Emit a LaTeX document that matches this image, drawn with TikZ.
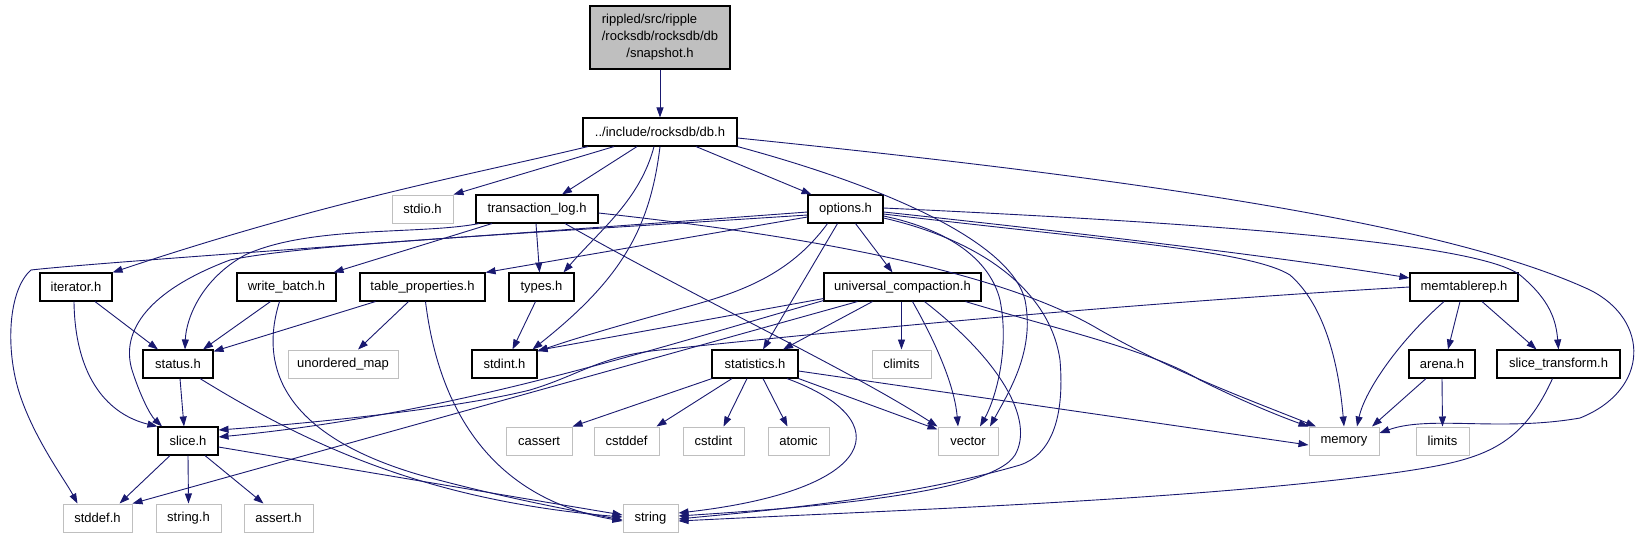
\documentclass[tikz,border=0pt]{standalone}
\usepackage{fontspec}
\usepackage{calc}
\setmainfont{Liberation Sans}
\usetikzlibrary{arrows.meta}
\definecolor{edgecol}{RGB}{25,25,112}
\definecolor{greyb}{RGB}{191,191,191}
\begin{document}
\begin{tikzpicture}[x=1pt,y=-1pt,
  box/.style={draw, rectangle, minimum height=28pt, inner sep=0pt, font=\fontsize{13}{16}\selectfont},
  doc/.style={box, draw=black, line width=1.1pt},
  ext/.style={box, draw=greyb, line width=1pt},
  edge/.style={draw=edgecol, line width=0.9pt, -{Triangle[length=10pt,width=7pt]}}]
\useasboundingbox[fill=white] (0,0) rectangle (1644,539);
% nodes
\node[doc, fill=greyb, minimum width=140pt, minimum height=63pt, align=center, font=\fontsize{13}{17}\selectfont] (snap) at (660,37.5)
  {\makebox[\widthof{/rocksdb/rocksdb/db}][l]{rippled/src/ripple}\\/rocksdb/rocksdb/db\\/snapshot.h};
\node[doc, minimum width=154pt] (db) at (660,132) {../include/rocksdb/db.h};
\node[ext, minimum width=61pt] (stdio) at (422.5,209) {stdio.h};
\node[doc, minimum width=122pt] (tlog) at (537,209) {transaction\_log.h};
\node[doc, minimum width=75pt] (opts) at (845.5,209) {options.h};
\node[doc, minimum width=72pt] (iter) at (76,287) {iterator.h};
\node[doc, minimum width=99pt] (wb) at (286.5,287) {write\_batch.h};
\node[doc, minimum width=125pt] (tp) at (422.5,287) {table\_properties.h};
\node[doc, minimum width=65pt] (types) at (541.5,287) {types.h};
\node[doc, minimum width=157pt] (uni) at (902.5,287) {universal\_compaction.h};
\node[doc, minimum width=108pt] (memt) at (1464,287) {memtablerep.h};
\node[doc, minimum width=70pt] (status) at (178,364) {status.h};
\node[ext, minimum width=110pt] (umap) at (343,364) {unordered\_map};
\node[doc, minimum width=65pt] (stdint) at (504.5,364) {stdint.h};
\node[doc, minimum width=86pt] (stats) at (755,364) {statistics.h};
\node[ext, minimum width=59pt] (climits) at (901.5,364) {climits};
\node[doc, minimum width=66pt] (arena) at (1442,364) {arena.h};
\node[doc, minimum width=123pt] (sltr) at (1558.5,364) {slice\_transform.h};
\node[doc, minimum width=60pt] (slice) at (188,441) {slice.h};
\node[ext, minimum width=66pt] (cassert) at (539,441) {cassert};
\node[ext, minimum width=65pt] (cstddef) at (626.5,441) {cstddef};
\node[ext, minimum width=61pt] (cstdint) at (713.5,441) {cstdint};
\node[ext, minimum width=61pt] (atomic) at (798.5,441) {atomic};
\node[ext, minimum width=60pt] (vector) at (968,441) {vector};
\node[ext, minimum width=70pt] (memory) at (1344,441) {memory};
\node[ext, minimum width=53pt] (limits) at (1442.5,441) {limits};
\node[ext, minimum width=69pt] (stddef) at (97.5,518) {stddef.h};
\node[ext, minimum width=65pt] (stringh) at (188.5,518) {string.h};
\node[ext, minimum width=69pt] (assert) at (278.5,518) {assert.h};
\node[ext, minimum width=55pt] (string) at (650.5,518) {string};
% edges
\draw[edge] (snap.south) -- (db.north);
% db.h
\draw[edge] ([xshift=-72pt]db.south) .. controls (470,175) and (330,200) .. (iter.north east);
\draw[edge] ([xshift=-46pt]db.south) -- (stdio.north east);
\draw[edge] ([xshift=-23pt]db.south) -- ([xshift=25pt]tlog.north);
\draw[edge] ([xshift=-6pt]db.south) .. controls (640,200) and (600,230) .. ([xshift=22pt]types.north);
\draw[edge] (db.south) .. controls (650,230) and (620,280) .. ([xshift=28pt]stdint.north);
\draw[edge] ([xshift=36pt]db.south) -- ([xshift=-34pt]opts.north);
\draw[edge] (db.south east) .. controls (880,185) and (1010,240) .. (1025,300) .. controls (1035,350) and (1010,390) .. ([xshift=22pt]vector.north);
\draw[edge] ([yshift=-6pt]db.east) .. controls (1150,180) and (1450,225) .. (1590,290) .. controls (1650,320) and (1650,390) .. (1580,418) .. controls (1500,432) and (1430,415) .. ([yshift=8pt]memory.east);
% transaction_log.h
\draw[edge] ([xshift=-58pt]tlog.south) .. controls (420,235) and (310,225) .. (245,255) .. controls (200,280) and (186,320) .. ([xshift=7pt]status.north);
\draw[edge] ([xshift=-45pt]tlog.south) -- ([xshift=47pt]wb.north);
\draw[edge] ([xshift=-1pt]tlog.south) -- ([xshift=-2pt]types.north);
\draw[edge] ([xshift=28pt]tlog.south) .. controls (700,300) and (850,370) .. (vector.north west);
\draw[edge] ([yshift=-4pt]tlog.east) .. controls (800,235) and (1000,270) .. (1100,330) .. controls (1180,375) and (1250,400) .. ([xshift=-28pt]memory.north);
% options.h
\draw[edge] ([yshift=-3pt]opts.west) .. controls (500,235) and (100,262) .. (31,270) .. controls (8,290) and (5,350) .. (20,395) .. controls (35,440) and (65,480) .. ([xshift=-20pt]stddef.north);
\draw[edge] ([yshift=-6pt]opts.west) .. controls (500,235) and (300,245) .. (230,260) .. controls (150,290) and (120,330) .. (132,370) .. controls (140,395) and (150,415) .. ([xshift=-26pt]slice.north);
\draw[edge] ([yshift=-8pt]opts.west) -- (tp.north east);
\draw[edge] ([xshift=-18pt]opts.south) .. controls (790,275) and (740,292) .. (690,306) .. controls (620,325) and (570,340) .. ([yshift=-2pt]stdint.north east);
\draw[edge] ([xshift=-8pt]opts.south) -- ([xshift=8pt]stats.north);
\draw[edge] ([xshift=10pt]opts.south) -- ([xshift=-10pt]uni.north);
\draw[edge] ([yshift=-3pt]opts.east) .. controls (1100,235) and (1300,260) .. ([yshift=9pt]memt.west);
\draw[edge] ([yshift=1pt]opts.east) .. controls (1250,225) and (1480,245) .. (1520,275) .. controls (1550,300) and (1556,320) .. (sltr.north);
\draw[edge] ([yshift=-5pt]opts.east) .. controls (1100,240) and (1250,250) .. (1290,275) .. controls (1330,310) and (1340,380) .. (memory.north);
\draw[edge] ([yshift=-7pt]opts.east) .. controls (950,230) and (990,260) .. (1000,300) .. controls (1010,350) and (995,400) .. ([xshift=12pt]vector.north);
\draw[edge] ([yshift=-9pt]opts.east) .. controls (980,240) and (1050,290) .. (1060,360) .. controls (1065,420) and (1050,455) .. (1020,465) .. controls (900,500) and (750,512) .. ([yshift=-1pt]string.east);
% universal_compaction.h
\draw[edge] ([yshift=3pt]uni.south west) -- ([yshift=-1pt]stdint.north east);
\draw[edge] ([yshift=1pt]uni.south west) .. controls (650,350) and (450,415) .. ([yshift=4pt]slice.east);
\draw[edge] ([xshift=-45pt]uni.south) -- (stddef.north east);
\draw[edge] ([xshift=-30pt]uni.south) -- ([xshift=28pt]stats.north);
\draw[edge] ([xshift=-1pt]uni.south) -- (climits.north);
\draw[edge] ([xshift=10pt]uni.south) .. controls (940,350) and (955,390) .. ([xshift=-10pt]vector.north);
\draw[edge] ([xshift=22pt]uni.south) .. controls (1000,360) and (1035,420) .. (1015,455) .. controls (990,495) and (800,508) .. ([yshift=2pt]string.east);
\draw[edge] ([xshift=63pt]uni.south) .. controls (1060,330) and (1150,350) .. (1200,380) .. controls (1250,405) and (1290,420) .. (memory.north west);
% statistics.h
\draw[edge] ([xshift=-43pt]stats.south) -- (cassert.north east);
\draw[edge] ([xshift=-23pt]stats.south) -- ([xshift=30pt]cstddef.north);
\draw[edge] ([xshift=-8pt]stats.south) -- ([xshift=10pt]cstdint.north);
\draw[edge] ([xshift=8pt]stats.south) -- ([xshift=-11pt]atomic.north);
\draw[edge] (stats.south east) -- ([yshift=-3pt]vector.north west);
\draw[edge] ([yshift=-7pt]stats.east) -- ([yshift=-4pt]memory.west);
\draw[edge] ([xshift=32pt]stats.south) .. controls (900,420) and (880,490) .. ([yshift=5pt]string.east);
% memtablerep.h
\draw[edge] (memt.west) .. controls (1100,305) and (800,335) .. (660,350) .. controls (600,356) and (580,375) .. (530,390) .. controls (450,410) and (300,424) .. ([yshift=11pt]slice.east);
\draw[edge] ([xshift=-20pt]memt.south) .. controls (1400,340) and (1365,390) .. ([xshift=13pt]memory.north);
\draw[edge] ([xshift=-4pt]memt.south) -- ([xshift=6pt]arena.north);
\draw[edge] ([xshift=18pt]memt.south) -- ([xshift=-22pt]sltr.north);
% arena.h, slice_transform.h
\draw[edge] ([xshift=-16pt]arena.south) -- ([xshift=28pt]memory.north);
\draw[edge] (arena.south) -- (limits.north);
\draw[edge] ([xshift=-6pt]sltr.south) .. controls (1520,450) and (1480,460) .. (1400,472) .. controls (1200,500) and (900,510) .. ([yshift=-3pt]string.east);
% iterator.h, write_batch.h, table_properties.h, types.h
\draw[edge] ([xshift=19pt]iter.south) -- ([xshift=-20pt]status.north);
\draw[edge] ([xshift=-2pt]iter.south) .. controls (75,380) and (110,415) .. (slice.north west);
\draw[edge] ([xshift=-16pt]wb.south) -- ([xshift=25pt]status.north);
\draw[edge] ([xshift=-7pt]wb.south) .. controls (255,380) and (300,440) .. (420,475) .. controls (500,497) and (570,510) .. ([yshift=-2pt]string.west);
\draw[edge] ([xshift=-47pt]tp.south) -- ([yshift=-2pt]status.north east);
\draw[edge] ([xshift=-14pt]tp.south) -- ([xshift=15pt]umap.north);
\draw[edge] ([xshift=3pt]tp.south) .. controls (440,420) and (500,500) .. ([yshift=-3pt]string.west);
\draw[edge] ([xshift=-6pt]types.south) -- ([xshift=8pt]stdint.north);
% status.h, slice.h
\draw[edge] ([xshift=2pt]status.south) -- ([xshift=-4pt]slice.north);
\draw[edge] ([xshift=22pt]status.south) .. controls (300,440) and (420,500) .. ([yshift=1pt]string.west);
\draw[edge] ([yshift=-6pt]slice.east) -- ([yshift=3pt]string.west);
\draw[edge] ([xshift=-18pt]slice.south) -- ([xshift=22pt]stddef.north);
\draw[edge] (slice.south) -- (stringh.north);
\draw[edge] ([xshift=17pt]slice.south) -- ([xshift=-15pt]assert.north);
\end{tikzpicture}
\end{document}
